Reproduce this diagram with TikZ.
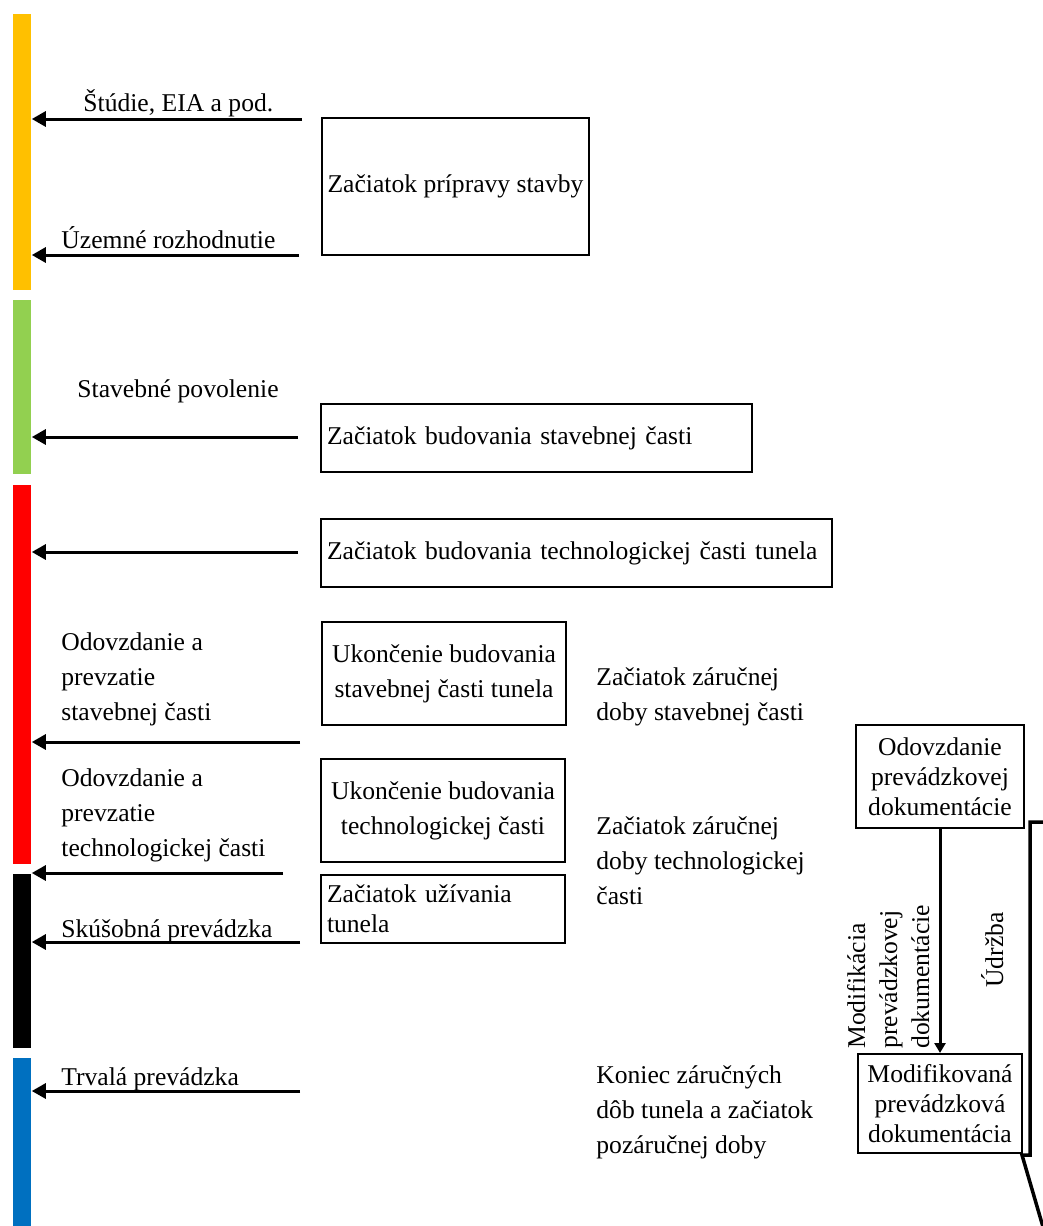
\documentclass[tikz,border=0pt]{standalone}
\usepackage{fontspec}
\setmainfont{Liberation Serif}
\usetikzlibrary{arrows.meta}

\definecolor{zlta}{HTML}{FFC000}
\definecolor{zelena}{HTML}{92D050}
\definecolor{cervena}{HTML}{FF0000}
\definecolor{modra}{HTML}{0070C0}

\tikzset{
  faza/.style={anchor=north west, inner sep=0pt, minimum width=9pt},
  krok/.style={-{Triangle[length=7pt,width=7.5pt]}, line width=1.5pt},
  sipka/.style={-{Triangle[length=5pt,width=5.5pt]}, line width=1.5pt},
  blok/.style={draw, line width=1pt, inner sep=3pt, align=center},
  popis/.style={inner sep=0pt, align=left, anchor=base west},
  husto/.style={font=\fontsize{12.8}{15}\selectfont},
}

\begin{document}
\begin{tikzpicture}[x=0.5pt, y=-0.5pt, font=\fontsize{12.8}{17.5}\selectfont]
        \useasboundingbox (0,0) rectangle (1043,1226);
        \clip (0,0) rectangle (1043,1226);

        \node[faza, fill=zlta, minimum height=138pt] (priprava) at (13,14) {};
        \node[faza, fill=zelena, minimum height=87pt] (stavba) at (13,300) {};
        \node[faza, fill=cervena, minimum height=189.5pt] (budovanie) at (13,485) {};
        \node[faza, fill=black, minimum height=87pt] (skusanie) at (13,874) {};
        \node[faza, fill=modra, minimum height=86pt] (prevadzka) at (13,1058) {};

        \coordinate (s1) at (302,119);
        \coordinate (s2) at (299,255);
        \coordinate (s3) at (298,437);
        \coordinate (s4) at (298,552);
        \coordinate (s5) at (300,742);
        \coordinate (s6) at (283,873);
        \coordinate (s7) at (300,942);
        \coordinate (s8) at (300,1091);
        \draw[krok] (s1) -- (s1 -| priprava.east);
        \draw[krok] (s2) -- (s2 -| priprava.east);
        \draw[krok] (s3) -- (s3 -| stavba.east);
        \draw[krok] (s4) -- (s4 -| budovanie.east);
        \draw[krok] (s5) -- (s5 -| budovanie.east);
        \draw[krok] (s6) -- (s6 -| budovanie.east);
        \draw[krok] (s7) -- (s7 -| skusanie.east);
        \draw[krok] (s8) -- (s8 -| prevadzka.east);

        \node[popis] (studie) at (83,111) {Štúdie, EIA a pod.};
        \node[popis] (uzemne) at (61,248) {Územné rozhodnutie};
        \node[popis] (povolenie) at (77,397) {Stavebné povolenie};
        \node[popis] (prevzatieS) at (61,720) {Odovzdanie a\\prevzatie\\stavebnej časti};
        \node[popis] (prevzatieT) at (61,856) {Odovzdanie a\\prevzatie\\technologickej časti};
        \node[popis] (skusobna) at (61,937) {Skúšobná prevádzka};
        \node[popis] (trvala) at (61,1085) {Trvalá prevádzka};

        \node[blok, minimum width=133.5pt, minimum height=68.5pt] (zaciatokP) at (455.5,186.5) {Začiatok prípravy stavby};
        \node[blok, align=left, text width=209.5pt, minimum height=34pt] (zaciatokS) at (536.5,438) {Začiatok budovania stavebnej časti};
        \node[blok, align=left, text width=249.5pt, minimum height=34pt] (zaciatokT) at (576.5,553) {Začiatok budovania technologickej časti tunela};
        \node[blok, minimum width=122pt, minimum height=51.5pt] (koniecS) at (444,673.5) {Ukončenie budovania\\stavebnej časti tunela};
        \node[blok, minimum width=122pt, minimum height=51.5pt] (koniecT) at (443,810.5) {Ukončenie budovania\\technologickej časti};
        \node[blok, husto, align=left, text width=116pt, minimum height=34pt] (uzivanie) at (443,909) {Začiatok užívania\\tunela};

        \node[popis] (zarukaS) at (596,720) {Začiatok záručnej\\doby stavebnej časti};
        \node[popis] (zarukaT) at (596,904) {Začiatok záručnej\\doby technologickej\\časti};
        \node[popis] (pozaruka) at (596,1153) {Koniec záručných\\dôb tunela a začiatok\\pozáručnej doby};

        \node[blok, husto, minimum width=84pt, minimum height=51.5pt] (dokumentacia) at (940,776.5) {Odovzdanie\\prevádzkovej\\dokumentácie};
        \node[blok, husto, minimum width=82pt, minimum height=49.5pt] (modifikovana) at (940,1103.5) {Modifikovaná\\prevádzková\\dokumentácia};
        \draw[sipka] (dokumentacia) -- (modifikovana);

        \node[popis, rotate=90, font=\fontsize{12.8}{16}\selectfont] (modifikacia) at (929,1049) {Modifikácia\\prevádzkovej\\dokumentácie};
        \node[inner sep=0pt, rotate=90, anchor=base] (udrzba) at (1003,950) {Údržba};

        \draw[line width=1.75pt] (1030,822) -- (1080,822) -- (1080,1155) -- (1088,1155) -- (1055,1268) -- (1022,1155) -- (1030,1155) -- cycle;
    \end{tikzpicture}
\end{document}
